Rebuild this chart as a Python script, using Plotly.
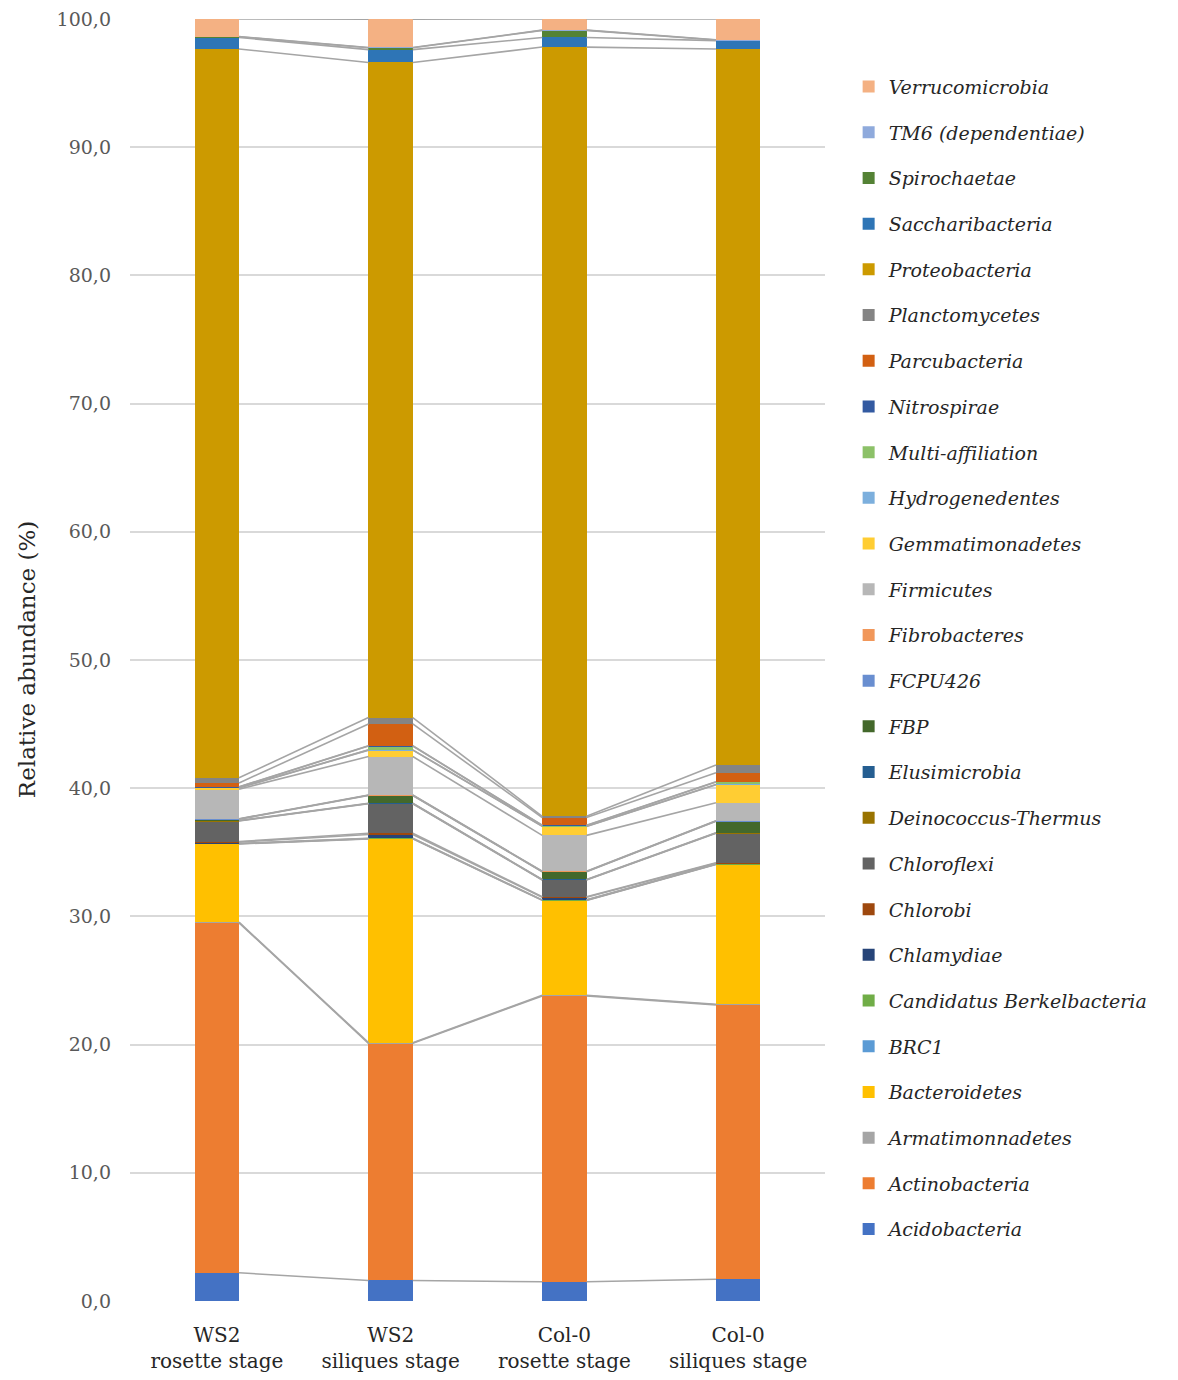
import plotly.graph_objects as go

# Samples (x categories)
samples = ["WS2<br>rosette stage", "WS2<br>siliques stage",
           "Col-0<br>rosette stage", "Col-0<br>siliques stage"]

# Phyla, stacked bottom to top
phyla = [
    "Acidobacteria", "Actinobacteria", "Armatimonnadetes", "Bacteroidetes",
    "BRC1", "Candidatus Berkelbacteria", "Chlamydiae", "Chlorobi",
    "Chloroflexi", "Deinococcus-Thermus", "Elusimicrobia", "FBP",
    "FCPU426", "Fibrobacteres", "Firmicutes", "Gemmatimonadetes",
    "Hydrogenedentes", "Multi-affiliation", "Nitrospirae", "Parcubacteria",
    "Planctomycetes", "Proteobacteria", "Saccharibacteria", "Spirochaetae",
    "TM6 (dependentiae)", "Verrucomicrobia",
]

# Relative abundance (%) per sample, one list per phylum
acidobacteria = [2.2, 1.6, 1.5, 1.7]
actinobacteria = [27.3, 18.5, 22.3, 21.4]
armatimonnadetes = [0.05, 0.05, 0.05, 0.05]
bacteroidetes = [6.1, 15.9, 7.4, 10.9]
brc1 = [0.02, 0.02, 0.02, 0.02]
berkelbacteria = [0.02, 0.02, 0.02, 0.02]
chlamydiae = [0.1, 0.3, 0.2, 0.05]
chlorobi = [0.05, 0.1, 0.05, 0.05]
chloroflexi = [1.6, 2.3, 1.3, 2.3]
deinococcus = [0.02, 0.02, 0.02, 0.02]
elusimicrobia = [0.02, 0.02, 0.02, 0.02]
fbp = [0.1, 0.6, 0.6, 0.9]
fcpu426 = [0.02, 0.02, 0.02, 0.02]
fibrobacteres = [0.02, 0.02, 0.02, 0.02]
firmicutes = [2.3, 3.0, 2.8, 1.4]
gemmatimonadetes = [0.1, 0.5, 0.7, 1.4]
hydrogenedentes = [0.02, 0.02, 0.02, 0.02]
multi_affiliation = [0.05, 0.3, 0.05, 0.2]
nitrospirae = [0.02, 0.02, 0.02, 0.02]
parcubacteria = [0.3, 1.7, 0.6, 0.7]
planctomycetes = [0.4, 0.5, 0.1, 0.6]
proteobacteria = [56.85, 51.1, 60.0, 55.85]
saccharibacteria = [0.9, 1.0, 0.75, 0.65]
spirochaetae = [0.05, 0.15, 0.55, 0.05]
tm6 = [0.02, 0.02, 0.02, 0.02]
verrucomicrobia = [1.37, 2.2, 0.87, 1.62]

values = [
    acidobacteria, actinobacteria, armatimonnadetes, bacteroidetes, brc1,
    berkelbacteria, chlamydiae, chlorobi, chloroflexi, deinococcus,
    elusimicrobia, fbp, fcpu426, fibrobacteres, firmicutes, gemmatimonadetes,
    hydrogenedentes, multi_affiliation, nitrospirae, parcubacteria,
    planctomycetes, proteobacteria, saccharibacteria, spirochaetae, tm6,
    verrucomicrobia,
]

colors = [
    "#4472C4", "#ED7D31", "#A5A5A5", "#FFC000", "#5B9BD5", "#70AD47",
    "#264478", "#9E480E", "#636363", "#997300", "#255E91", "#43682B",
    "#698ED0", "#F1975A", "#B7B7B7", "#FFCD33", "#7CAFDD", "#8CC168",
    "#335AA1", "#D26012", "#848484", "#CC9A00", "#2E75B6", "#548235",
    "#8FAADC", "#F4B183",
]

ytick_vals = [0, 10, 20, 30, 40, 50, 60, 70, 80, 90, 100]

SERIF = "DejaVu Serif"
BAR_W = 0.255
xpos = list(range(len(samples)))
n_series = len(phyla)

fig = go.Figure()

# Stacked bars (legend lists the top segment first)
for k, (name, vals, col) in enumerate(zip(phyla, values, colors)):
    fig.add_trace(go.Bar(
        x=xpos, y=vals, name="<i>%s</i>" % name, width=BAR_W,
        marker=dict(color=col, line=dict(width=0)),
        legendgroup=name, legendrank=1000 + n_series - k,
    ))

# Series lines joining the top of each segment between neighbouring bars
cum = [0.0] * len(samples)
for vals in values:
    cum = [c + v for c, v in zip(cum, vals)]
    lx, ly = [], []
    for i in range(len(samples) - 1):
        lx += [xpos[i] + BAR_W / 2, xpos[i + 1] - BAR_W / 2, None]
        ly += [cum[i], cum[i + 1], None]
    fig.add_trace(go.Scatter(
        x=lx, y=ly, mode="lines", showlegend=False, hoverinfo="skip",
        line=dict(color="#A5A5A5", width=1.6),
    ))

fig.update_layout(
    barmode="stack",
    width=1178, height=1380,
    margin=dict(l=130, r=353, t=19, b=79),
    paper_bgcolor="white", plot_bgcolor="white",
    separators=",.",
    font=dict(family=SERIF, color="#262626"),
    legend=dict(
        x=1.034, xanchor="left", y=0.962, yanchor="top",
        traceorder="grouped", tracegroupgap=18,
        font=dict(family=SERIF, size=19, color="#262626"),
        bgcolor="rgba(0,0,0,0)",
    ),
    xaxis=dict(
        range=[-0.5, 3.5], tickvals=xpos, ticktext=samples,
        showgrid=False, zeroline=False, showline=False, ticks="",
        tickfont=dict(family=SERIF, size=20, color="#262626"),
        ticklabelstandoff=20, automargin=False,
    ),
    yaxis=dict(
        range=[0, 100], tickvals=ytick_vals, tickformat=".1f",
        showgrid=True, gridcolor="#D9D9D9", gridwidth=1.5,
        zeroline=False, showline=False, ticks="",
        tickfont=dict(family=SERIF, size=19, color="#595959"),
        ticklabelstandoff=18, automargin=False,
    ),
    annotations=[dict(
        text="Relative abundance (%)", textangle=-90,
        xref="paper", yref="paper", x=-0.148, y=0.5,
        xanchor="center", yanchor="middle", showarrow=False,
        font=dict(family=SERIF, size=23, color="#262626"),
    )],
)

fig.write_html("out.html")
